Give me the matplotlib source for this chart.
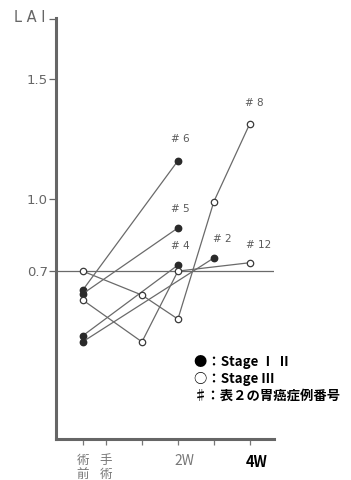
import matplotlib.pyplot as plt
from matplotlib.transforms import ScaledTranslation

# x positions in weeks after surgery; pre-op sits a little left of surgery
x_preop = -0.65
tick_pos = [x_preop, 0, 1, 2, 3, 4]
tick_labels = ['術\n前', '手\n術', '', '2W', '', '4W']

# Stage I/II cases (filled markers)
case6_x = [x_preop, 2]
case6_y = [0.62, 1.16]
case5_x = [x_preop, 2]
case5_y = [0.605, 0.88]
case4_x = [x_preop, 2]
case4_y = [0.43, 0.725]
case2_x = [x_preop, 3]
case2_y = [0.405, 0.755]

# Stage III cases (open markers)
case8_x = [x_preop, 1, 2, 3, 4]
case8_y = [0.70, 0.60, 0.50, 0.99, 1.315]
case12_x = [x_preop, 1, 2, 4]
case12_y = [0.58, 0.405, 0.70, 0.735]

y_ticks = [0.7, 1.0, 1.5]
y_tick_labels = ['0.7', '1.0', '1.5']

grey = '#5a5a5a'
line_grey = '#6a6a6a'
cjk = ['Noto Sans CJK JP', 'DejaVu Sans']

fig = plt.figure(figsize=(3.51, 4.80), dpi=100)
ax = fig.add_axes([0.1595, 0.0854, 0.621, 0.877])

ax.axhline(0.7, color=line_grey, lw=0.9, zorder=1)

filled = [(case6_x, case6_y, '# 6', (2, 12)),
          (case5_x, case5_y, '# 5', (2, 10)),
          (case4_x, case4_y, '# 4', (2, 10)),
          (case2_x, case2_y, '# 2', (6, 10))]
opened = [(case8_x, case8_y, '# 8', (3, 11)),
          (case12_x, case12_y, '# 12', (6, 9))]

for xs, ys, lab, off in filled:
    ax.plot(xs, ys, color=line_grey, lw=0.9, marker='o', ms=4.6,
            mfc='#2a2a2a', mec='#2a2a2a', zorder=3)
    ax.annotate(lab, (xs[-1], ys[-1]), xytext=off, textcoords='offset points',
                ha='center', va='bottom', fontsize=7.5, color=grey)

for xs, ys, lab, off in opened:
    ax.plot(xs, ys, color=line_grey, lw=0.9, marker='o', ms=4.6,
            mfc='white', mec='#3a3a3a', mew=0.9, zorder=3)
    ax.annotate(lab, (xs[-1], ys[-1]), xytext=off, textcoords='offset points',
                ha='center', va='bottom', fontsize=7.5, color=grey)

ax.set_xlim(-1.39, 4.67)
ax.set_ylim(0, 1.755)

for side in ['top', 'right']:
    ax.spines[side].set_visible(False)
for side in ['left', 'bottom']:
    ax.spines[side].set_color('#666666')
    ax.spines[side].set_linewidth(2.2)

ax.set_yticks(y_ticks + [1.75])
ax.set_yticklabels(y_tick_labels + [''])
ax.tick_params(axis='y', direction='out', length=5, width=0.9,
               colors='#666666', labelsize=9.5, pad=1)

ax.set_xticks(tick_pos)
ax.set_xticklabels(tick_labels)
ax.tick_params(axis='x', direction='out', length=4, width=0.9,
               colors='#777777', pad=7)
for lbl in ax.get_xticklabels():
    lbl.set_family(cjk)
    lbl.set_fontsize(9)
    lbl.set_linespacing(1.05)
    lbl.set_verticalalignment('top')
xl = ax.get_xticklabels()
xl[3].set_fontsize(10)
xl[5].set_color('black')
xl[5].set_fontweight('bold')
xl[5].set_fontsize(10.5)
# week labels sit a touch right of their ticks
shift = ScaledTranslation(0.07, 0, fig.dpi_scale_trans)
for i in (3, 5):
    xl[i].set_transform(xl[i].get_transform() + shift)

fig.text(46 / 351, 1 - 17 / 480, 'L A I', ha='right', va='center',
         fontsize=10.5, color='#666666')

legend_lines = ['●：Stage Ⅰ Ⅱ', '○：Stage Ⅲ', '♯：表２の胃癌症例番号']
for i, t in enumerate(legend_lines):
    fig.text(194 / 351, 1 - (362 + 17 * i) / 480, t, ha='left', va='center',
             fontsize=9.6, fontweight='bold', color='black', family=cjk)

fig.savefig('out.png', dpi=100)
